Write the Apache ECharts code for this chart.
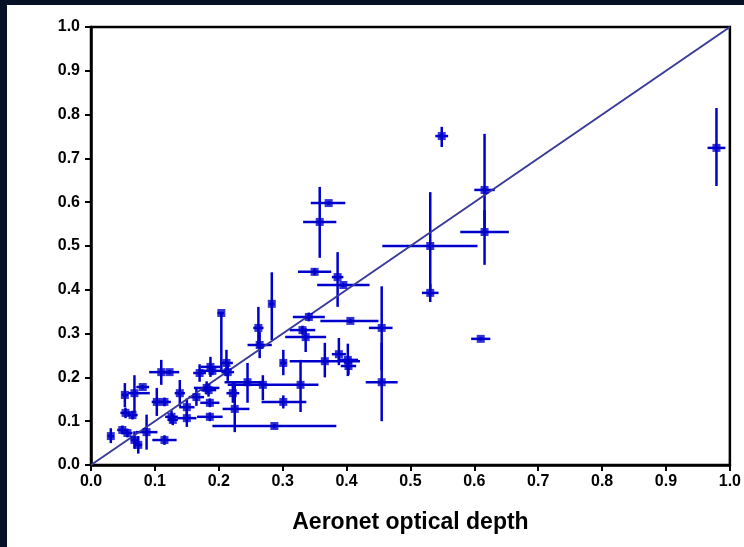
<!DOCTYPE html>
<html>
<head>
<meta charset="utf-8">
<script src="https://cdn.jsdelivr.net/npm/echarts@6/dist/echarts.min.js"></script>
<style>
  html, body { margin: 0; padding: 0; background: #061127; }
  #main { position: absolute; left: 7px; top: 5px; width: 737px; height: 542px; background: #ffffff; }
</style>
</head>
<body>
<div id="main"></div>
<script>
// aeronet vs retrieved optical depth
var xVals = [0.979, 0.549, 0.616, 0.616, 0.531, 0.531, 0.610, 0.372, 0.358, 0.350,
  0.386, 0.395, 0.283, 0.204, 0.262, 0.264, 0.341, 0.331, 0.336, 0.406,
  0.455, 0.455, 0.388, 0.402, 0.403, 0.366, 0.301, 0.328, 0.245, 0.269,
  0.301, 0.287, 0.225, 0.222, 0.186, 0.186, 0.181, 0.187, 0.212, 0.214,
  0.190, 0.150, 0.165, 0.184, 0.150, 0.031, 0.053, 0.068, 0.110, 0.123,
  0.081, 0.054, 0.065, 0.049, 0.057, 0.068, 0.074, 0.087, 0.115, 0.103,
  0.115, 0.126, 0.139, 0.128, 0.170];
var yVals = [0.724, 0.751, 0.628, 0.532, 0.500, 0.393, 0.288, 0.598, 0.555, 0.441,
  0.429, 0.411, 0.368, 0.347, 0.313, 0.274, 0.338, 0.308, 0.292, 0.329,
  0.313, 0.189, 0.253, 0.240, 0.226, 0.237, 0.233, 0.183, 0.189, 0.183,
  0.144, 0.089, 0.128, 0.164, 0.142, 0.110, 0.176, 0.224, 0.233, 0.212,
  0.215, 0.132, 0.155, 0.171, 0.107, 0.066, 0.160, 0.164, 0.212, 0.212,
  0.178, 0.119, 0.114, 0.080, 0.073, 0.057, 0.046, 0.075, 0.057, 0.144,
  0.144, 0.110, 0.164, 0.103, 0.210];
var xMinus = [0.014, 0.010, 0.016, 0.038, 0.075, 0.013, 0.015, 0.028, 0.026, 0.026,
  0.009, 0.041, 0.004, 0.006, 0.008, 0.019, 0.025, 0.020, 0.032, 0.047,
  0.020, 0.025, 0.011, 0.016, 0.012, 0.055, 0.005, 0.114, 0.036, 0.008,
  0.034, 0.097, 0.019, 0.010, 0.015, 0.020, 0.020, 0.015, 0.010, 0.010,
  0.020, 0.012, 0.012, 0.012, 0.015, 0.005, 0.005, 0.010, 0.019, 0.015,
  0.010, 0.008, 0.008, 0.008, 0.008, 0.006, 0.006, 0.017, 0.019, 0.008,
  0.010, 0.010, 0.008, 0.008, 0.010];
var xPlus = [0.014, 0.010, 0.016, 0.038, 0.074, 0.013, 0.015, 0.026, 0.026, 0.026,
  0.009, 0.041, 0.004, 0.004, 0.008, 0.019, 0.025, 0.020, 0.032, 0.044,
  0.017, 0.025, 0.011, 0.016, 0.012, 0.055, 0.005, 0.028, 0.023, 0.008,
  0.036, 0.097, 0.023, 0.010, 0.015, 0.020, 0.020, 0.015, 0.010, 0.010,
  0.020, 0.012, 0.012, 0.012, 0.015, 0.005, 0.005, 0.024, 0.017, 0.015,
  0.010, 0.008, 0.008, 0.008, 0.008, 0.006, 0.006, 0.017, 0.019, 0.008,
  0.010, 0.010, 0.008, 0.008, 0.010];
var yMinus = [0.087, 0.025, 0.096, 0.075, 0.100, 0.021, 0.004, 0.004, 0.082, 0.008,
  0.068, 0.005, 0.083, 0.130, 0.046, 0.030, 0.010, 0.010, 0.034, 0.005,
  0.096, 0.089, 0.025, 0.037, 0.020, 0.037, 0.028, 0.062, 0.047, 0.035,
  0.015, 0.005, 0.053, 0.022, 0.010, 0.010, 0.015, 0.023, 0.030, 0.020,
  0.010, 0.020, 0.020, 0.015, 0.020, 0.016, 0.028, 0.045, 0.029, 0.005,
  0.005, 0.012, 0.010, 0.010, 0.010, 0.020, 0.020, 0.040, 0.011, 0.032,
  0.010, 0.015, 0.030, 0.012, 0.020];
var yPlus = [0.091, 0.021, 0.128, 0.050, 0.123, 0.020, 0.004, 0.004, 0.080, 0.008,
  0.057, 0.005, 0.072, 0.000, 0.048, 0.030, 0.010, 0.010, 0.020, 0.005,
  0.095, 0.090, 0.037, 0.037, 0.020, 0.042, 0.030, 0.057, 0.044, 0.022,
  0.015, 0.005, 0.059, 0.026, 0.010, 0.010, 0.015, 0.023, 0.030, 0.020,
  0.010, 0.020, 0.020, 0.015, 0.020, 0.018, 0.027, 0.041, 0.028, 0.005,
  0.005, 0.012, 0.010, 0.010, 0.010, 0.020, 0.020, 0.040, 0.011, 0.032,
  0.010, 0.015, 0.030, 0.012, 0.020];
var oneToOne = [[0, 0], [1, 1]];

var blue = '#0000cc';
var font = 'Liberation Sans, Arial, sans-serif';

var points = xVals.map(function (x, i) { return [x, yVals[i]]; });
var bars = xVals.map(function (x, i) {
  return [x, yVals[i], xMinus[i], xPlus[i], yMinus[i], yPlus[i]];
});

var myChart = echarts.init(document.getElementById('main'));

myChart.setOption({
  animation: false,
  grid: {
    left: 84, right: 14, top: 22, bottom: 82,
    show: true, borderColor: '#000', borderWidth: 2.5
  },
  xAxis: {
    type: 'value', min: 0, max: 1, interval: 0.1,
    name: 'Aeronet optical depth', nameLocation: 'middle', nameGap: 46,
    nameTextStyle: { fontFamily: font, fontWeight: 'bold', fontSize: 23, color: '#000' },
    axisLine: { lineStyle: { color: '#000', width: 2.5 } },
    axisTick: { length: 6, lineStyle: { color: '#000', width: 2 } },
    axisLabel: {
      margin: 9, fontFamily: font, fontWeight: 'bold', fontSize: 16, color: '#000',
      formatter: function (v) { return v.toFixed(1); }
    },
    splitLine: { show: false }
  },
  yAxis: {
    type: 'value', min: 0, max: 1, interval: 0.1,
    axisLine: { lineStyle: { color: '#000', width: 2.5 } },
    axisTick: { length: 6, lineStyle: { color: '#000', width: 2 } },
    axisLabel: {
      margin: 11, fontFamily: font, fontWeight: 'bold', fontSize: 16, color: '#000',
      formatter: function (v) { return v.toFixed(1); }
    },
    splitLine: { show: false }
  },
  series: [
    {
      type: 'line', data: oneToOne, symbol: 'none', z: 3,
      lineStyle: { color: '#3a3a9a', width: 2 }
    },
    {
      type: 'custom', z: 2,
      renderItem: function (params, api) {
        var x = api.value(0), y = api.value(1);
        var l = api.coord([x - api.value(2), y]);
        var r = api.coord([x + api.value(3), y]);
        var b = api.coord([x, y - api.value(4)]);
        var t = api.coord([x, y + api.value(5)]);
        var st = { stroke: blue, lineWidth: 2.5 };
        return {
          type: 'group',
          children: [
            { type: 'line', shape: { x1: l[0], y1: l[1], x2: r[0], y2: r[1] }, style: st },
            { type: 'line', shape: { x1: b[0], y1: b[1], x2: t[0], y2: t[1] }, style: st }
          ]
        };
      },
      data: bars
    },
    {
      type: 'scatter', data: points, symbol: 'rect', symbolSize: 8, z: 4,
      itemStyle: { color: blue }
    }
  ]
});
</script>
</body>
</html>
